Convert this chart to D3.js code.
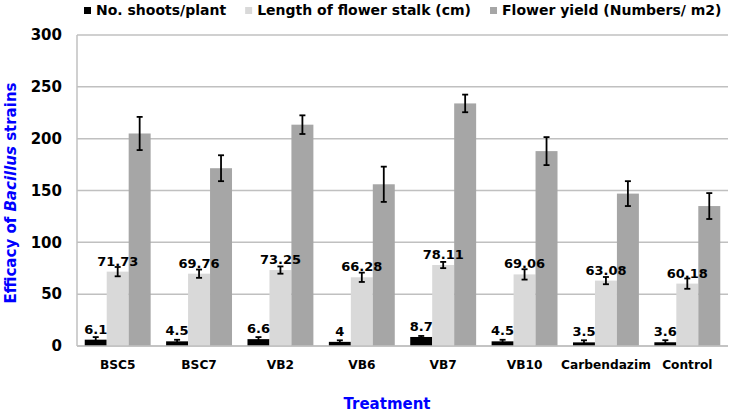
<!DOCTYPE html>
<html>
<head>
<meta charset="utf-8">
<script src="https://cdn.jsdelivr.net/npm/d3@7"></script>
<style>
  body { margin: 0; background: #fff; }
  svg { display: block; font-family: "DejaVu Sans", Verdana, sans-serif; font-weight: bold; }
</style>
</head>
<body>
<svg id="chart" width="732" height="415"></svg>
<script>
// data
const treatments = ['BSC5', 'BSC7', 'VB2', 'VB6', 'VB7', 'VB10', 'Carbendazim', 'Control'];
const seriesNames = ['No. shoots/plant', 'Length of flower stalk (cm)', 'Flower yield (Numbers/ m2)'];
const shoots = [6.1, 4.5, 6.6, 4, 8.7, 4.5, 3.5, 3.6];
const shootsErr = [2.5, 1.5, 2, 1.5, 1, 1.5, 2, 2];
const stalk = [71.73, 69.76, 73.25, 66.28, 78.11, 69.06, 63.08, 60.18];
const stalkErr = [4.5, 4, 3.5, 4.5, 3, 5, 3.5, 5];
const flowerYield = [205, 171.5, 213.5, 156, 234, 188, 147, 135];
const yieldErr = [16, 12.5, 9, 17, 8.5, 13.5, 12, 12.5];
const yTicks = [0, 50, 100, 150, 200, 250, 300];

const colors = ['#000000', '#d9d9d9', '#a6a6a6'];
const values = [shoots, stalk, flowerYield];
const errors = [shootsErr, stalkErr, yieldErr];
const labelled = [true, true, false];

const svg = d3.select('#chart');

const x0 = d3.scaleBand().domain(treatments).range([77, 728]);
const x1 = d3.scaleBand().domain(d3.range(3)).range([0, x0.bandwidth()]).paddingOuter(0.352);
const y = d3.scaleLinear().domain([0, 300]).range([346, 35]);

// gridlines
svg.append('g')
    .attr('class', 'grid')
    .selectAll('line')
    .data(yTicks)
    .enter()
    .append('line')
    .attr('x1', 77)
    .attr('x2', 728)
    .attr('y1', d => y(d))
    .attr('y2', d => y(d))
    .attr('stroke', '#c0c0c0')
    .attr('stroke-width', 1.5);

// left axis line
svg.append('line')
    .attr('x1', 77).attr('x2', 77)
    .attr('y1', y(300)).attr('y2', y(0))
    .attr('stroke', '#c0c0c0')
    .attr('stroke-width', 1.5);

// y tick labels
const yAxis = svg.append('g')
    .attr('transform', 'translate(77,0)')
    .call(d3.axisLeft(y).tickValues(yTicks).tickSize(0).tickPadding(15));
yAxis.select('.domain').remove();
yAxis.selectAll('text')
    .attr('font-family', '"DejaVu Sans", Verdana, sans-serif')
    .attr('font-weight', 'bold')
    .attr('font-size', 15)
    .attr('fill', '#000');

// x tick labels
const xAxis = svg.append('g')
    .attr('transform', 'translate(0,346)')
    .call(d3.axisBottom(x0).tickSize(0).tickPadding(14));
xAxis.select('.domain').remove();
xAxis.selectAll('text')
    .attr('font-family', '"DejaVu Sans", Verdana, sans-serif')
    .attr('font-weight', 'bold')
    .attr('font-size', 12.2)
    .attr('fill', '#000');

const cxOf = s => (d, i) => x0(treatments[i]) + x1(s) + x1.bandwidth() / 2;

// bars and error bars
values.forEach(function(vals, s) {
    const g = svg.append('g').attr('class', 'series-' + s);
    const cx = cxOf(s);

    g.selectAll('rect')
        .data(vals)
        .enter()
        .append('rect')
        .attr('x', (d, i) => x0(treatments[i]) + x1(s))
        .attr('y', d => y(d))
        .attr('width', x1.bandwidth())
        .attr('height', d => y(0) - y(d))
        .attr('fill', colors[s]);

    const err = errors[s];
    const eb = g.selectAll('.err')
        .data(vals)
        .enter()
        .append('g')
        .attr('class', 'err')
        .attr('stroke', '#000')
        .attr('stroke-width', 1.8);
    eb.append('line')
        .attr('x1', cx).attr('x2', cx)
        .attr('y1', (d, i) => y(d + err[i]))
        .attr('y2', (d, i) => y(d - err[i]));
    eb.append('line')
        .attr('x1', (d, i) => cx(d, i) - 3).attr('x2', (d, i) => cx(d, i) + 3)
        .attr('y1', (d, i) => y(d + err[i]))
        .attr('y2', (d, i) => y(d + err[i]));
    eb.append('line')
        .attr('x1', (d, i) => cx(d, i) - 3).attr('x2', (d, i) => cx(d, i) + 3)
        .attr('y1', (d, i) => y(d - err[i]))
        .attr('y2', (d, i) => y(d - err[i]));
});

// bottom baseline on top of bars
svg.append('line')
    .attr('x1', 77).attr('x2', 728)
    .attr('y1', y(0)).attr('y2', y(0))
    .attr('stroke', '#c0c0c0')
    .attr('stroke-width', 1.5);

// value labels, drawn last so no bar covers them
values.forEach(function(vals, s) {
    if (!labelled[s]) return;
    svg.append('g')
        .attr('class', 'labels-' + s)
        .selectAll('text')
        .data(vals)
        .enter()
        .append('text')
        .attr('x', cxOf(s))
        .attr('y', d => y(d) - 6)
        .attr('text-anchor', 'middle')
        .attr('font-size', 13)
        .attr('fill', '#000')
        .text(d => d);
});

// legend
let lx = 84;
seriesNames.forEach(function(name, s) {
    svg.append('rect')
        .attr('x', lx).attr('y', 7)
        .attr('width', 7).attr('height', 7)
        .attr('fill', colors[s]);
    const t = svg.append('text')
        .attr('x', lx + 12).attr('y', 15)
        .attr('font-size', 14)
        .attr('fill', '#000')
        .text(name);
    lx += 12 + t.node().getComputedTextLength() + 19;
});

// axis titles
const yTitle = svg.append('text')
    .attr('transform', 'translate(16,193) rotate(-90)')
    .attr('text-anchor', 'middle')
    .attr('font-size', 15)
    .attr('fill', '#0000ff');
yTitle.append('tspan').text('Efficacy of ');
yTitle.append('tspan').attr('font-style', 'italic').text('Bacillus');
yTitle.append('tspan').text(' strains');

svg.append('text')
    .attr('x', 387).attr('y', 409)
    .attr('text-anchor', 'middle')
    .attr('font-size', 15)
    .attr('fill', '#0000ff')
    .text('Treatment');
</script>
</body>
</html>
